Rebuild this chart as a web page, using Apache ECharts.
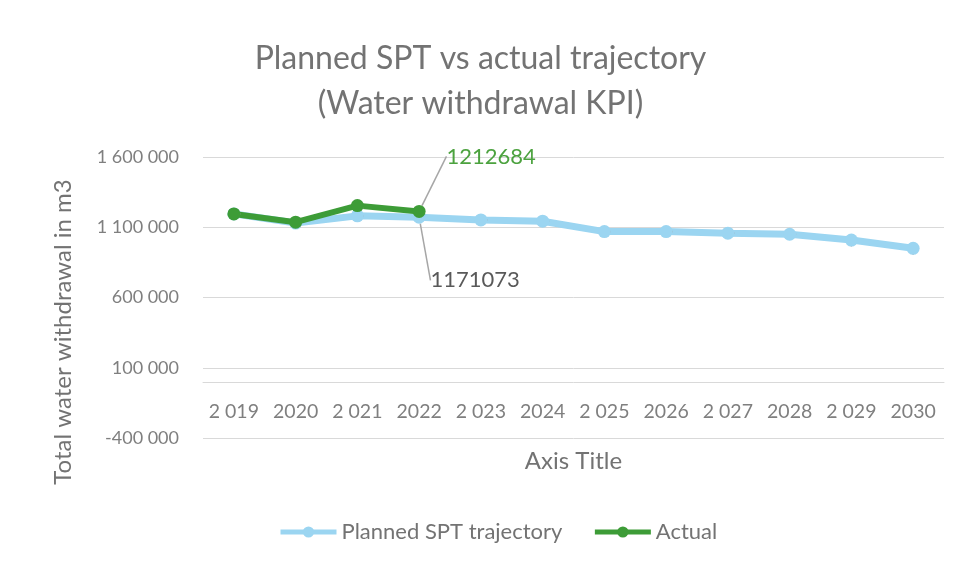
<!doctype html>
<html lang="en">
<head>
    <meta charset="UTF-8">
    <title>Planned SPT vs actual trajectory</title>
    <script src="https://cdn.jsdelivr.net/npm/echarts@6/dist/echarts.min.js"></script>
    <style>
        html, body { margin: 0; padding: 0; background: #fff; }
        #chart { width: 961px; height: 565px; }
    </style>
</head>
<body>
<div id="chart"></div>
<script>
    // data
    var years = ['2 019', '2020', '2 021', '2022', '2 023', '2024', '2 025', '2026', '2 027', '2028', '2 029', '2030'];
    var planned = [1195000, 1130000, 1181000, 1171073, 1152000, 1143000, 1069000, 1069000, 1058000, 1050000, 1009000, 950000];
    var actual = [1195000, 1136000, 1254000, 1212684];
    var yTicks = { min: -400000, max: 1600000, interval: 500000 };

    var font = 'Lato, "Open Sans", sans-serif';
    var grey = '#7f7f7f';

    function fmt(v) {
        var s = String(Math.abs(v)).replace(/\B(?=(\d{3})+(?!\d))/g, ' ');
        return (v < 0 ? '-' : '') + s;
    }

    var chart = echarts.init(document.getElementById('chart'));
    var option = {
        animation: false,
        title: {
            text: 'Planned SPT vs actual trajectory\n(Water withdrawal KPI)',
            left: 'center',
            top: 31,
            textStyle: { fontFamily: font, fontSize: 32, fontWeight: 'normal', color: '#737373', lineHeight: 45 }
        },
        legend: {
            bottom: 17,
            left: 273,
            itemWidth: 56,
            itemHeight: 14,
            itemGap: 30,
            lineStyle: { width: 5 },
            textStyle: { fontFamily: font, fontSize: 22, color: '#737373' },
            data: ['Planned SPT trajectory', 'Actual']
        },
        grid: { left: 203, right: 17, top: 157, bottom: 127 },
        xAxis: {
            type: 'category',
            data: years,
            boundaryGap: true,
            axisLine: { show: true, lineStyle: { color: '#d9d9d9', width: 1 } },
            axisTick: { show: false },
            axisLabel: { inside: true, interval: 0, margin: 16, fontFamily: font, fontSize: 19.5, color: grey },
            name: 'Axis Title',
            nameLocation: 'middle',
            nameGap: 11,
            nameTextStyle: { fontFamily: font, fontSize: 24, color: '#737373', verticalAlign: 'top' }
        },
        yAxis: {
            type: 'value',
            min: yTicks.min,
            max: yTicks.max,
            interval: yTicks.interval,
            axisLine: { show: false },
            axisTick: { show: false },
            splitLine: { lineStyle: { color: '#d9d9d9', width: 1 } },
            axisLabel: { margin: 24, fontFamily: font, fontSize: 18, color: grey, formatter: fmt }
        },
        graphic: [{
            type: 'text',
            x: 63, y: 332,
            rotation: Math.PI / 2,
            style: {
                text: 'Total water withdrawal in m3',
                fontFamily: font, fontSize: 24, fill: '#737373',
                align: 'center', verticalAlign: 'middle'
            }
        }],
        series: [
            {
                name: 'Planned SPT trajectory',
                type: 'line',
                data: planned,
                symbol: 'circle',
                symbolSize: 13,
                lineStyle: { color: '#9bd5f1', width: 7 },
                itemStyle: { color: '#9bd5f1' },
                z: 2,
                label: {
                    show: true,
                    position: 'inside',
                    fontFamily: font, fontSize: 22, color: '#595959',
                    formatter: function (p) { return p.dataIndex === 3 ? String(p.value) : ''; }
                },
                labelLine: { show: true, lineStyle: { color: '#a6a6a6', width: 1.5 } },
                labelLayout: function (p) {
                    if (p.dataIndex === 3) return { dx: 56, dy: 63 };
                    return {};
                }
            },
            {
                name: 'Actual',
                type: 'line',
                data: actual,
                symbol: 'circle',
                symbolSize: 13,
                lineStyle: { color: '#3d9c37', width: 6 },
                itemStyle: { color: '#3d9c37' },
                z: 3,
                label: {
                    show: true,
                    position: 'inside',
                    fontFamily: font, fontSize: 22, color: '#4ca23f',
                    formatter: function (p) { return p.dataIndex === 3 ? String(p.value) : ''; }
                },
                labelLine: { show: true, lineStyle: { color: '#a6a6a6', width: 1.5 } },
                labelLayout: function (p) {
                    if (p.dataIndex === 3) return { dx: 72, dy: -55 };
                    return {};
                }
            }
        ]
    };
    chart.setOption(option);
</script>
</body>
</html>
